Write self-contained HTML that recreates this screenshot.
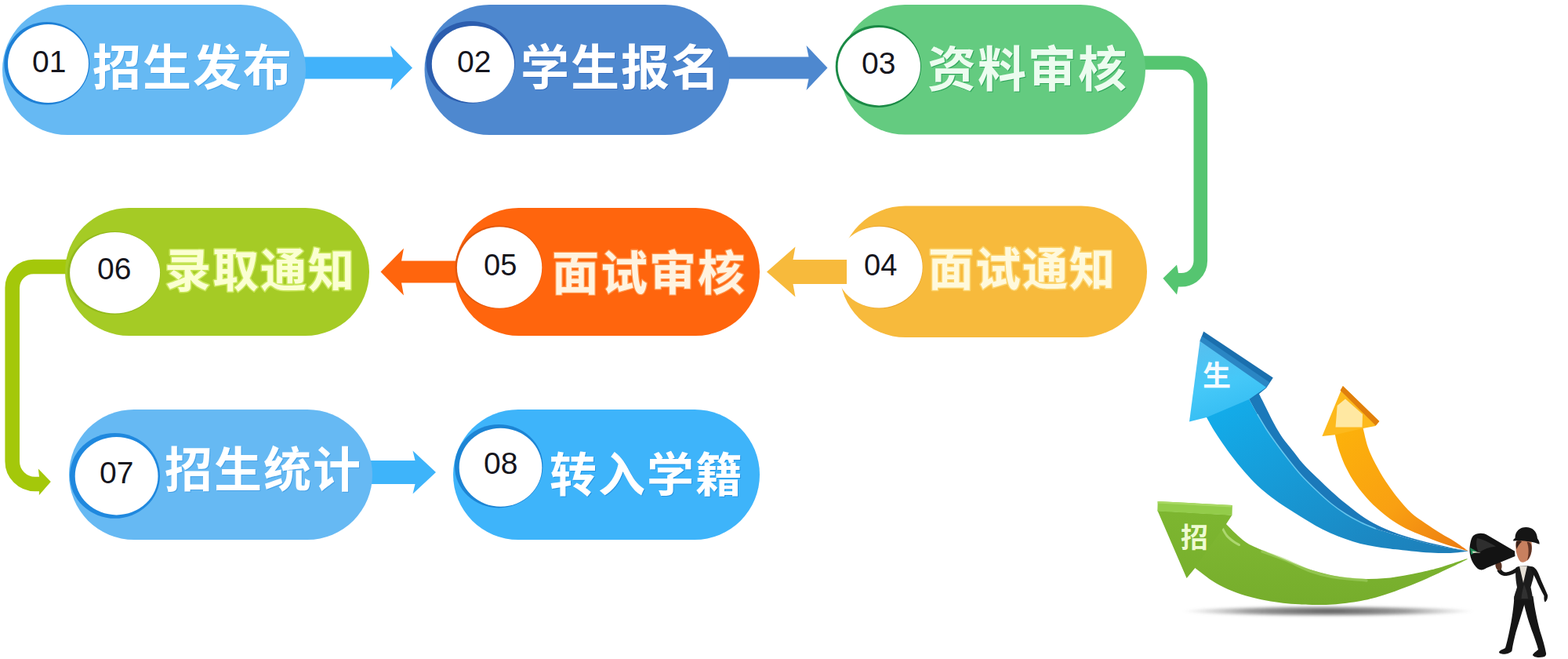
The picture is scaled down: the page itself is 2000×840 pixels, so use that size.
<!DOCTYPE html>
<html lang="zh-CN"><head><meta charset="utf-8"><title>招生流程</title>
<style>
html,body{margin:0;padding:0;background:#fff;overflow:hidden}
body{font-family:"Liberation Sans","Noto Sans CJK SC",sans-serif}
#stage{position:relative;width:2000px;height:840px;overflow:hidden;background:#fff}
#stage svg{position:absolute;left:0;top:0;display:block}
#stage svg text{font-family:"Liberation Sans","Noto Sans CJK SC",sans-serif}
</style>
</head><body>
<div id="stage">
<svg width="2000" height="840" viewBox="0 0 2000 840">
<defs></defs>
<rect width="2000" height="840" fill="#fff"/>
<path d="M1450 80H1504.3A27 27 0 0 1 1531.3 107V332.3A24.5 24.5 0 0 1 1506.8 356.8H1500" fill="none" stroke="#55C570" stroke-width="17.6"/>
<path d="M1483.4 354.7L1501 337.5Q1502.2 343 1503 348V365.6Q1502.2 370 1501 375.6Z" fill="#55C570"/>
<path d="M100 340H42.7A27 27 0 0 0 15.7 367V588A29 29 0 0 0 44.7 617H51" fill="none" stroke="#A4C80A" stroke-width="18.6"/>
<path d="M64.8 614L48.8 597.5Q49.5 603 50 607.8V626.2Q50 629 49.8 631.3Z" fill="#A4C80A"/>
<path d="M380 72.5H501L498 58.0L526 86.5L498 115.0L501 100.5H380Z" fill="#41B2FA"/>
<path d="M920 72.5H1031.5L1028.5 58.0L1055.5 86.5L1028.5 115.0L1031.5 100.5H920Z" fill="#4E88CF"/>
<path d="M590 332.5H512L515 316.5L485.5 346.5L515 376.5L512 360.5H590Z" fill="#FF650D"/>
<path d="M465 587H529.5L526.5 574.5L556 602L526.5 629.5L529.5 617H465Z" fill="#3EB4FA"/>
<rect x="3" y="6" width="387" height="166" rx="83.0" ry="83.0" fill="#66B9F3" />
<rect x="541.5" y="6" width="389.5" height="166" rx="83.0" ry="83.0" fill="#4E88CF" />
<rect x="1071.5" y="6" width="389.5" height="165.5" rx="82.75" ry="82.75" fill="#64CB80" />
<rect x="83" y="265" width="388" height="163" rx="81.5" ry="81.5" fill="#A5CB25" />
<rect x="580" y="265" width="389" height="163" rx="81.5" ry="81.5" fill="#FF650D" />
<rect x="1071" y="262.5" width="392" height="167.5" rx="83.75" ry="83.75" fill="#F7BA3C" />
<rect x="88" y="522" width="387" height="166" rx="83.0" ry="83.0" fill="#66B9F3" />
<rect x="578" y="522" width="391" height="166" rx="83.0" ry="83.0" fill="#3EB4FA" />
<ellipse cx="59.8" cy="80.7" rx="54.5" ry="52.7" fill="#1E80D6"/><ellipse cx="61.5" cy="81.0" rx="51.5" ry="50.0" fill="#fff"/>
<ellipse cx="600.3" cy="79.4" rx="56.7" ry="52.4" fill="#2B5DAE"/><ellipse cx="603.4" cy="81.8" rx="52.6" ry="48.9" fill="#fff"/>
<ellipse cx="1120.3" cy="84.6" rx="54.6" ry="52.5" fill="#1A8A45"/><ellipse cx="1121.3" cy="84.7" rx="52.7" ry="49.7" fill="#fff"/>
<ellipse cx="1122.7" cy="340.5" rx="54.6" ry="52.7" fill="#E8A32A"/><ellipse cx="1121.3" cy="340.6" rx="55.4" ry="51.8" fill="#fff"/>
<path d="M1080 331.0H1011.5L1014.5 314.5L978 346.5L1014.5 378.5L1011.5 362.0H1080Z" fill="#F7BA3C"/>
<ellipse cx="636.1" cy="340.5" rx="55.6" ry="52.9" fill="#E2570A"/><ellipse cx="637.1" cy="341.0" rx="54.2" ry="51.7" fill="#fff"/>
<ellipse cx="145.3" cy="348.0" rx="59.3" ry="53.0" fill="#93BA1C"/><ellipse cx="146.6" cy="347.7" rx="57.5" ry="51.7" fill="#fff"/>
<ellipse cx="146.5" cy="606.4" rx="57.5" ry="54.4" fill="#1F88DE"/><ellipse cx="148.6" cy="606.7" rx="52.9" ry="49.7" fill="#fff"/>
<ellipse cx="636.2" cy="594.2" rx="56.2" ry="53.2" fill="#1C84D4"/><ellipse cx="638.5" cy="595.7" rx="52.8" ry="50.0" fill="#fff"/>
<text x="41" y="91.5" font-size="39" fill="#15151d">01</text>
<text x="583" y="91.5" font-size="39" fill="#15151d">02</text>
<text x="1099" y="94" font-size="39" fill="#15151d">03</text>
<text x="1102" y="350.5" font-size="38" fill="#15151d">04</text>
<text x="617" y="350.5" font-size="38" fill="#15151d">05</text>
<text x="124" y="356" font-size="39" fill="#15151d">06</text>
<text x="127" y="615.5" font-size="39" fill="#15151d">07</text>
<text x="617" y="604" font-size="39" fill="#15151d">08</text>
<text x="118" y="109" font-size="62" font-weight="bold" letter-spacing="2" fill="#ffffff" style="filter:drop-shadow(1.2px 1.5px 0 rgba(47,143,223,.55))">招生发布</text>
<text x="664" y="109" font-size="62" font-weight="bold" letter-spacing="2" fill="#ffffff" style="filter:drop-shadow(1.2px 1.5px 0 rgba(42,95,181,.6))">学生报名</text>
<text x="1183" y="111" font-size="62" font-weight="bold" letter-spacing="2" fill="#ecfcef" style="filter:drop-shadow(1.5px 1.8px 0 rgba(31,154,79,.75))">资料审核</text>
<text x="1184" y="364" font-size="58" font-weight="bold" letter-spacing="2" fill="#fff9dc" stroke="#fff2a6" stroke-width="3.2" stroke-opacity="0.45" stroke-linejoin="round" paint-order="stroke">面试通知</text>
<text x="704" y="370" font-size="60" font-weight="bold" letter-spacing="2" fill="#fff3e0" stroke="#ffd9a8" stroke-width="2.6" stroke-opacity="0.4" stroke-linejoin="round" paint-order="stroke">面试审核</text>
<text x="210" y="366" font-size="59" font-weight="bold" letter-spacing="2" fill="#fbffd2" stroke="#eaff8a" stroke-width="3.2" stroke-opacity="0.5" stroke-linejoin="round" paint-order="stroke">录取通知</text>
<text x="210" y="621" font-size="61" font-weight="bold" letter-spacing="2" fill="#ffffff" style="filter:drop-shadow(1.2px 1.5px 0 rgba(47,143,223,.55))">招生统计</text>
<text x="701" y="627" font-size="60" font-weight="bold" letter-spacing="2" fill="#ffffff" style="filter:drop-shadow(1.2px 1.6px 0 rgba(29,132,214,.65))">转入学籍</text>
<defs><linearGradient id="gB" x1="0" y1="0" x2="1" y2="1"><stop offset="0" stop-color="#12b0ee"/><stop offset="1" stop-color="#1e7cb6"/></linearGradient><linearGradient id="gBh" x1="0" y1="0" x2="0.3" y2="1"><stop offset="0" stop-color="#58beee"/><stop offset="0.6" stop-color="#45c8f8"/><stop offset="1" stop-color="#35bdf3"/></linearGradient><linearGradient id="gO" x1="0" y1="0" x2="1" y2="1"><stop offset="0" stop-color="#fdb30a"/><stop offset="0.55" stop-color="#f9a012"/><stop offset="1" stop-color="#ec7a12"/></linearGradient><linearGradient id="gG" x1="0" y1="0" x2="0" y2="1"><stop offset="0" stop-color="#80b832"/><stop offset="1" stop-color="#76ad2c"/></linearGradient><linearGradient id="gGh" x1="0" y1="0" x2="0" y2="1"><stop offset="0" stop-color="#7db630"/><stop offset="1" stop-color="#78b02d"/></linearGradient><radialGradient id="gS" cx="0.5" cy="0.5" r="0.5"><stop offset="0" stop-color="#3a3a3a" stop-opacity=".85"/><stop offset="0.55" stop-color="#555" stop-opacity=".6"/><stop offset="1" stop-color="#888" stop-opacity="0"/></radialGradient><filter id="bl" x="-5%" y="-50%" width="110%" height="200%"><feGaussianBlur stdDeviation="1.6"/></filter></defs>
<ellipse cx="1694" cy="779" rx="186" ry="7.5" fill="url(#gS)" filter="url(#bl)"/>
<path d="M1559 663C1559.8 663.8 1561.2 665.2 1564 668C1566.8 670.8 1571.9 676.2 1576 680C1580.1 683.8 1584.6 687.9 1588.6 690.7C1592.6 693.5 1594.1 694.3 1600 697C1605.9 699.7 1615.9 703.7 1623.8 707C1631.7 710.3 1639.7 713.8 1647.6 717C1655.5 720.2 1663.5 723.4 1671.4 726C1679.3 728.6 1687.1 730.8 1695 732.5C1702.9 734.2 1711 735.6 1719 736.5C1727 737.4 1735 737.9 1742.9 738C1750.9 738.1 1758.8 737.7 1766.7 737C1774.6 736.3 1782.6 735.1 1790.5 733.8C1798.4 732.5 1806.4 730.8 1814.3 729C1822.2 727.2 1828.5 725.8 1838 723C1847.5 720.2 1865.9 713.8 1871.5 712L1871.5 713C1867.9 714.8 1858.6 719.4 1850 723.5C1841.4 727.6 1829.5 733.3 1820 737.5C1810.5 741.7 1802.2 745.1 1793 748.6C1783.8 752.1 1774.5 755.6 1765 758.5C1755.5 761.4 1746.5 764 1735.7 766C1724.9 768 1710.2 769.7 1700 770.5C1689.8 771.3 1682.3 771.1 1674.3 771C1666.3 770.9 1659.2 770.5 1652 770C1644.8 769.5 1638.4 768.8 1631.4 767.9C1624.4 767 1617.1 765.9 1610 764.5C1602.9 763.1 1595.9 761.5 1588.6 759.3C1581.3 757 1573.2 754.2 1566 751C1558.8 747.8 1552.7 744.5 1545.7 740C1538.8 735.5 1528.8 727.3 1524.3 724C1519.8 720.7 1519.9 720.7 1519 720Z" fill="url(#gG)"/>
<path d="M1559.5 674C1560.4 675.5 1562.8 680.3 1565 683C1567.2 685.7 1570.4 688.1 1573 690C1575.6 691.9 1579.2 693.8 1580.5 694.5" fill="none" stroke="#b9e07f" stroke-width="3" stroke-linecap="round" opacity=".8"/>
<path d="M1610 703C1615 704.8 1629.8 709.8 1640 714C1650.2 718.2 1661.4 724.4 1671.4 728C1681.4 731.6 1688.1 733.5 1700 735.5C1711.9 737.5 1735.8 739.2 1742.9 740" fill="none" stroke="#a8d56c" stroke-width="3.5" stroke-linecap="round" opacity=".55"/>
<path d="M1476.5 651L1571.5 656.4L1564 668L1548 690L1524.3 724L1513.6 737Z" fill="url(#gGh)"/>
<path d="M1476.7 638.9L1571.9 644L1571.5 656.8L1476.3 651.5Z" fill="#93cc4a"/>
<path d="M1476.7 638.9L1571.9 644L1571.8 646.5L1476.6 641.5Z" fill="#a9d964"/>
<path d="M1605.7 501.4C1607.3 504.6 1612 514.1 1615.2 520.5C1618.4 526.9 1621.3 533.1 1624.8 539.5C1628.3 545.9 1632.2 552.9 1636.2 558.6C1640.2 564.4 1644.2 568.6 1648.5 574C1652.8 579.4 1656.8 585.2 1662 591C1667.2 596.8 1673.8 603 1680 609C1686.2 615 1693 621.6 1699 627C1705 632.4 1709.8 636.5 1716 641.5C1722.2 646.5 1729.2 652.3 1736 657C1742.8 661.7 1750 665.9 1757 669.5C1764 673.1 1770.8 675.8 1778 678.5C1785.2 681.2 1792 683.5 1800 685.8C1808 688.1 1817.7 690.5 1826 692.5C1834.3 694.5 1842.2 696.3 1850 698C1857.8 699.7 1869.2 701.8 1873 702.5L1873 702.5C1867.2 701.5 1848.5 698.6 1838 696.5C1827.5 694.4 1819.2 692.3 1810 690C1800.8 687.7 1792.2 685.2 1783 682.5C1773.8 679.8 1762.8 676.8 1755 674C1747.2 671.2 1742.3 669.1 1736 666C1729.7 662.9 1723.3 659.5 1717 655.5C1710.7 651.5 1704.3 647.1 1698 642C1691.7 636.9 1685.3 631 1679 625C1672.7 619 1666.2 612.8 1660 606C1653.8 599.2 1647.2 590.6 1642 584C1636.8 577.4 1633.1 572.4 1628.6 566.2C1624.1 560 1619.3 553.4 1615.2 547C1611.1 540.6 1607.5 534.3 1603.8 528C1600.1 521.7 1595.8 513.5 1593.3 509C1590.8 504.5 1589.6 502.3 1588.9 501Z" fill="#1b79ba"/>
<path d="M1588.9 501C1589.6 502.3 1590.8 504.5 1593.3 509C1595.8 513.5 1600.1 521.7 1603.8 528C1607.5 534.3 1611.1 540.6 1615.2 547C1619.3 553.4 1624.1 560 1628.6 566.2C1633.1 572.4 1636.8 577.4 1642 584C1647.2 590.6 1653.8 599.2 1660 606C1666.2 612.8 1672.7 619 1679 625C1685.3 631 1691.7 636.9 1698 642C1704.3 647.1 1710.7 651.5 1717 655.5C1723.3 659.5 1729.7 662.9 1736 666C1742.3 669.1 1747.2 671.2 1755 674C1762.8 676.8 1773.8 679.8 1783 682.5C1792.2 685.2 1800.8 687.7 1810 690C1819.2 692.3 1827.5 694.4 1838 696.5C1848.5 698.6 1867.2 701.5 1873 702.5L1873 702.5C1869.2 702.9 1858 704.7 1850 705C1842 705.3 1833.3 704.9 1825 704.5C1816.7 704.1 1808.6 703.2 1800 702.4C1791.4 701.6 1780.9 700.5 1773.3 699.5C1765.7 698.5 1760.6 697.8 1754.3 696.7C1748 695.6 1741.5 694.5 1735.2 692.9C1728.9 691.3 1722.6 689.2 1716.2 687C1709.8 684.8 1703.4 682.3 1697 679.5C1690.6 676.7 1684.3 673.5 1678 670C1671.7 666.5 1665.3 662.5 1659 658.6C1652.7 654.7 1646.2 650.6 1640 646.5C1633.8 642.4 1628 638.6 1622 634C1616 629.4 1609.8 624.5 1604 619C1598.2 613.5 1592.3 607.1 1587 601C1581.7 594.9 1576.5 588.3 1572 582.5C1567.5 576.7 1563.8 571.5 1560 566C1556.2 560.5 1552.5 555.2 1549 549.5C1545.5 543.8 1541.3 536.1 1539 532C1536.7 527.9 1535.7 526.2 1535 525Z" fill="url(#gB)"/>
<path d="M1603.8 528C1605.7 531.2 1611.1 540.6 1615.2 547C1619.3 553.4 1624.1 560 1628.6 566.2C1633.1 572.4 1636.8 577.4 1642 584C1647.2 590.6 1653.8 599.2 1660 606C1666.2 612.8 1672.7 619 1679 625C1685.3 631 1691.7 636.9 1698 642C1704.3 647.1 1710.7 651.5 1717 655.5C1723.3 659.5 1729.7 662.9 1736 666C1742.3 669.1 1751.8 672.7 1755 674" fill="none" stroke="#6fd0f5" stroke-width="1.6" opacity=".8"/>
<path d="M1535.2 422.4L1623.8 481.4L1615.2 494.5L1606.7 501.4L1593.3 509L1530.5 434.8Z" fill="#1a6fae"/>
<path d="M1533 428.5L1619.5 487.5L1615.2 493.8L1530.5 434.8Z" fill="#2a86c4"/>
<path d="M1530.5 434.8L1615.2 493.8L1593.3 509L1539 532L1517 537.6Z" fill="url(#gBh)"/>
<path d="M1737.3 540.7C1737.5 541.5 1737.3 540.8 1738.6 545.7C1739.8 550.6 1742.2 562.5 1744.8 570C1747.4 577.5 1750.5 583.7 1754.3 591C1758.1 598.3 1762.8 606.5 1767.6 613.8C1772.4 621.1 1777.5 628.1 1782.9 634.8C1788.3 641.5 1794.2 648.4 1800 653.8C1805.8 659.2 1811.7 662.6 1818 667C1824.3 671.4 1831.8 676.2 1838 680C1844.2 683.8 1849.2 686.2 1855 690C1860.8 693.8 1870 700.4 1873 702.5L1873 702.5C1868 701 1851.9 696.5 1842.9 693.5C1833.9 690.5 1826.2 687.3 1819 684.5C1811.8 681.7 1805.7 679.3 1800 676.7C1794.3 674.1 1790.5 672.5 1784.8 669C1779.1 665.5 1772 660.8 1765.7 655.7C1759.4 650.6 1752.7 645 1746.7 638.6C1740.7 632.2 1734.6 624.9 1729.5 617.6C1724.4 610.3 1720 602.7 1716.2 594.8C1712.4 586.9 1708.9 576.8 1706.7 570C1704.5 563.2 1703.7 557.8 1702.9 554.3C1702.1 550.8 1701.9 550.1 1701.7 549.3Z" fill="url(#gO)"/>
<path d="M1712.9 492L1759.3 537L1754.3 543L1738.6 546L1702.9 554.3L1686.4 556Z" fill="#fdb91c"/>
<path d="M1712.9 492L1759.3 537L1754.8 542.5L1709.5 497.5Z" fill="#e07f0c"/>
<path d="M1705.7 517L1716 508.5L1738 528L1737.5 544.5L1703.5 544.5Z" fill="#fff4c4" opacity=".8"/>
<path d="M1931.5 760C1930.5 778 1927 797 1924.5 808C1923 815 1921.5 821 1920 826C1917 827.5 1913 829 1912 831C1912 833.5 1917 834 1921 833.5C1924 833 1927.5 831.5 1928.5 829.5C1929.5 822 1931.5 814 1933.5 806C1937 794 1941 782 1944.5 770L1946 757Z" fill="#151515"/>
<path d="M1942 760C1945 778 1951 796 1955.5 808C1958 815 1960.5 822 1962 828C1960 830 1955.5 832.5 1955 835C1956 838 1963 838.5 1968 837.5C1971 837 1972.5 835 1972 832.5C1970.5 824 1967.5 814 1964.5 805C1961 792 1957.5 776 1955.5 760Z" fill="#151515"/>
<path d="M1933.5 723.5C1938 720.5 1951 720.5 1956.5 723C1958 732 1954.5 741 1952.5 748.5C1953.5 754 1955 759 1955 764.5L1931 764.5C1931 759 1933.5 754 1935 748.5C1933.5 741 1932.5 732 1933.5 723.5Z" fill="#1c1c1c"/>
<path d="M1944 745C1946 750 1948.5 756 1949 763L1940.5 763C1941 756 1942.5 750 1944 745Z" fill="#3a3a3a" opacity=".7"/>
<path d="M1938 721.5L1948 721.5L1943 743Z" fill="#e6e0d6"/>
<path d="M1952.5 722.5C1958 722 1961 727 1963.5 734C1966.5 742 1971 751 1974 758.5C1974.5 762 1973 766 1970.8 767.5C1969 766 1969.5 762 1969.5 759.5C1966 753 1962 745 1959 738C1956 732 1953 728 1952.5 722.5Z" fill="#151515"/>
<path d="M1936 722.5C1931 726 1925.5 729 1921 729.5C1918 729.5 1915.5 727.5 1914.5 725L1909.5 727C1911 731.5 1916 734.5 1921.5 734C1927 733.5 1932 731 1936.5 728.5Z" fill="#151515"/>
<path d="M1908 717C1910.5 714.5 1914.5 715.5 1915.3 719C1916 722.5 1915.5 726 1913 727.5C1910 727.5 1908 724.5 1907.5 721.5C1907.3 719.8 1907.4 718 1908 717Z" fill="#5a3424"/>
<path d="M1934 690C1939 687 1950 687.5 1953.5 691C1954.5 699 1953.5 708 1949 713.5C1946 716.5 1942 717.5 1939.5 716C1936.5 713 1934.5 707 1933.6 701C1933.2 697 1933.3 693 1934 690Z" fill="#c8805f"/>
<path d="M1947.5 690.5C1951.5 691 1954 693 1953.8 699C1953.5 706 1951.5 711 1948 714.5C1950 707 1950.5 698 1947.5 690.5Z" fill="#5e3325"/>
<path d="M1934 690C1936 689 1939.5 689 1941 690.5C1938.5 692.5 1936 696 1934.5 700C1933.5 697 1933.5 693 1934 690Z" fill="#3a2119"/>
<path d="M1932.5 686C1932.5 676.5 1939 672 1946.4 672C1954.5 672 1960.5 677 1961 686.5C1962.5 688 1964 691 1963.5 693.8C1955 690 1941 688.6 1930.3 689.6C1929.8 688.2 1931 686.8 1932.5 686Z" fill="#151515"/>
<path d="M1879 683C1884 679 1892 679 1897 682L1932 702.5L1932.5 709L1896 724C1892 727 1888 727 1885 725C1878 719 1874 709 1874.5 699C1875 692 1876.5 686 1879 683Z" fill="#131313"/>
<path d="M1884 686C1890 687 1899 691 1908 696.5C1900 697.5 1891 700 1886.5 705C1883 699 1882.5 692 1884 686Z" fill="#2e2e2e"/>
<path d="M1875 698L1884 703L1876.5 707Z" fill="#1e8c57"/>
<path d="M1878 702.5L1889 704.5L1878.5 704.8Z" fill="#e9e4d0"/>
<text x="1534" y="492" font-size="36" font-weight="bold" fill="#f4fbff">生</text>
<text x="1506" y="697.5" font-size="35" font-weight="bold" fill="#eefad2">招</text>
</svg>
</div>
</body></html>
